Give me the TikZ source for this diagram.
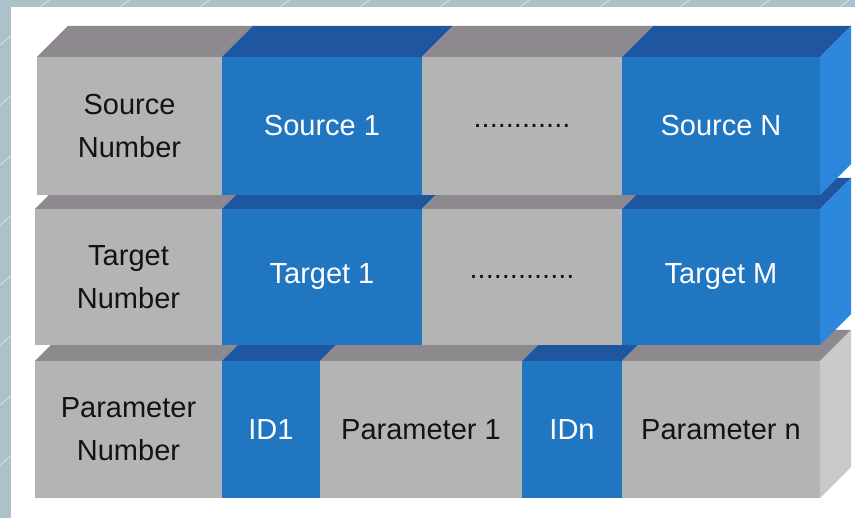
\documentclass[tikz,border=0pt]{standalone}
\usepackage{fontspec}
\setmainfont{Liberation Sans}
\usepackage{xcolor}
\usepackage{tikz}

\definecolor{framebg}{HTML}{ADC1CB}
\definecolor{grayfront}{HTML}{B4B4B4}
\definecolor{graytop}{HTML}{8E898E}
\definecolor{grayside}{HTML}{C9C9C9}
\definecolor{graytext}{HTML}{101414}
\definecolor{bluefront}{HTML}{2176C1}
\definecolor{bluetop}{HTML}{1E57A0}
\definecolor{blueside}{HTML}{2C86DC}
\definecolor{bluetext}{HTML}{FFFFFF}

\tikzset{
  cell/.style={fill=#1front, text=#1text, anchor=north west, inner sep=0pt, outer sep=0pt,
    align=center, font=\fontsize{29}{43}\selectfont},
  face/.style={fill=#1top},
  side/.style={fill=#1side},
  frameline/.style={white!75!framebg, line width=0.5pt}
}

\begin{document}
\begin{tikzpicture}[x=1pt,y=-1pt]
\useasboundingbox (0,0) rectangle (855,518);
% frame
\fill[framebg] (0,0) rectangle (855,518);
\fill[white] (11,7) rectangle (855,518);
\foreach \y in {45,105,165,225,285,345,405,465}
  \draw[frameline] (0,\y) -- (11,\y-9);
\foreach \x in {40,120,200,280,360,440,520,600,680,760,840}
  \draw[frameline] (\x,7) -- (\x+9,0);

% parameter row
\foreach \name/\x/\w/\kind/\txt in {parnum/35/187/gray/{Parameter\\Number},
    id1/222/98/blue/ID1, par1/320/202/gray/Parameter 1,
    idn/522/100/blue/IDn, parn/622/198/gray/Parameter n}{
  \node[cell=\kind, minimum width=\w pt, minimum height=137pt] (\name) at (\x,361) {\txt};
  \fill[face=\kind] (\name.north west) -- (\name.north east) -- ++(31,-31)
    -- ([shift={(31,-31)}]\name.north west) -- cycle;
}
\fill[side=gray] (parn.north east) -- ++(31,-31) -- ++(0,137) -- (parn.south east) -- cycle;

% target row
\foreach \name/\x/\w/\kind/\txt in {tgtnum/35/187/gray/{Target\\Number},
    tgt1/222/200/blue/Target 1, tgtdots/422/200/gray/{.............},
    tgtm/622/198/blue/Target M}{
  \node[cell=\kind, minimum width=\w pt, minimum height=136pt] (\name) at (\x,209) {\txt};
  \fill[face=\kind] (\name.north west) -- (\name.north east) -- ++(31,-31)
    -- ([shift={(31,-31)}]\name.north west) -- cycle;
}
\fill[side=blue] (tgtm.north east) -- ++(31,-31) -- ++(0,136) -- (tgtm.south east) -- cycle;

% source row
\foreach \name/\x/\w/\kind/\txt in {srcnum/37/185/gray/{Source\\Number},
    src1/222/200/blue/Source 1, srcdots/422/200/gray/{............},
    srcn/622/198/blue/Source N}{
  \node[cell=\kind, minimum width=\w pt, minimum height=138pt] (\name) at (\x,57) {\txt};
  \fill[face=\kind] (\name.north west) -- (\name.north east) -- ++(31,-31)
    -- ([shift={(31,-31)}]\name.north west) -- cycle;
}
\fill[side=blue] (srcn.north east) -- ++(31,-31) -- ++(0,138) -- (srcn.south east) -- cycle;
\end{tikzpicture}
\end{document}
